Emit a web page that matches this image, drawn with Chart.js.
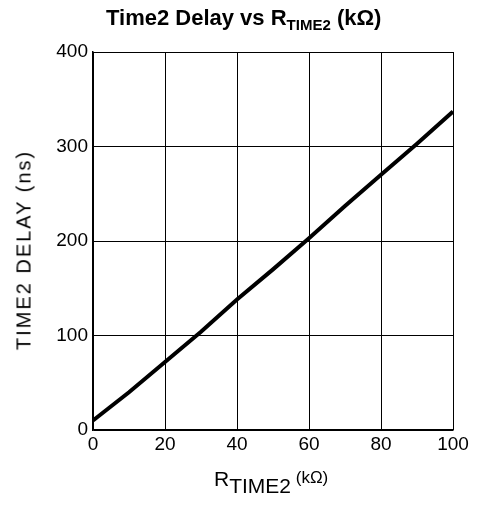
<!DOCTYPE html>
<html>
<head>
<meta charset="utf-8">
<script src="https://cdn.jsdelivr.net/npm/chart.js@4.4.1/dist/chart.umd.min.js"></script>
<style>
  html, body { margin: 0; padding: 0; background: #fff; }
  #wrap { position: relative; width: 482px; height: 509px; }
  #c { position: absolute; left: 0; top: 0; }
  .title { position: absolute; left: 106px; top: 5px; white-space: nowrap;
           font-family: "Liberation Sans", Arial, sans-serif; font-weight: bold; font-size: 22px; color: #000; }
  .title sub { font-size: 15px; vertical-align: -5px; line-height: 0; }
  .xlab { position: absolute; left: 214px; top: 467px; white-space: nowrap;
          font-family: "Liberation Sans", Arial, sans-serif; font-size: 21px; color: #000; }
  .xlab sub { font-size: 21px; vertical-align: -7px; line-height: 0; }
  .xlab sup { font-size: 17px; vertical-align: 3px; line-height: 0; }
  .ylab { position: absolute; left: 24px; top: 250px; white-space: nowrap;
          transform: translate(-50%, -50%) rotate(-90deg);
          font-family: "Liberation Sans", Arial, sans-serif; font-size: 20px; letter-spacing: 2px; color: #000; }
</style>
</head>
<body>
<div id="wrap">
  <canvas id="c" width="482" height="509"></canvas>
  <div class="title">Time2 Delay vs R<sub>TIME2</sub> (kΩ)</div>
  <div class="xlab">R<sub>TIME2</sub><sup> (kΩ)</sup></div>
  <div class="ylab" id="ylab"></div>
</div>
<script>
const rValues = [0, 10, 20, 30, 40, 50, 60, 70, 80, 90, 100];
const delayValues = [10, 40, 72, 104, 138, 170, 203, 237, 270, 303, 337];
const baseX = [0, 10];
const baseY = [0, 0];
const xTicks = [0, 20, 40, 60, 80, 100];
const yTicks = [0, 100, 200, 300, 400];
const yTitle = "TIME2 DELAY (ns)";

document.getElementById('ylab').textContent = yTitle;

const mainData = rValues.map((x, i) => ({ x: x, y: delayValues[i] }));
const baseData = baseX.map((x, i) => ({ x: x, y: baseY[i] }));

new Chart(document.getElementById('c'), {
  type: 'scatter',
  data: {
    datasets: [
      { data: mainData, showLine: true, borderColor: '#000', borderWidth: 4, pointRadius: 0, tension: 0, fill: false },
      { data: baseData, showLine: true, borderColor: '#000', borderWidth: 2, pointRadius: 0, fill: false }
    ]
  },
  options: {
    responsive: false,
    animation: false,
    events: [],
    layout: { padding: { left: 0, right: 29, top: 52, bottom: 0 } },
    plugins: { legend: { display: false }, title: { display: false }, tooltip: { enabled: false } },
    scales: {
      x: {
        type: 'linear', min: 0, max: 100,
        afterBuildTicks: s => { s.ticks = xTicks.map(v => ({ value: v })); },
        afterFit: s => { s.height = 79; },
        ticks: { color: '#000', font: { family: 'Liberation Sans, Arial, sans-serif', size: 19 }, padding: 3, maxRotation: 0 },
        grid: { color: '#000', lineWidth: 1, drawTicks: false },
        border: { color: '#000', width: 1.5 }
      },
      y: {
        type: 'linear', min: 0, max: 400,
        afterBuildTicks: s => { s.ticks = yTicks.map(v => ({ value: v })); },
        afterFit: s => { s.width = 93; },
        ticks: { color: '#000', font: { family: 'Liberation Sans, Arial, sans-serif', size: 19 }, padding: 5 },
        grid: { color: '#000', lineWidth: 1, drawTicks: false },
        border: { color: '#000', width: 1.5 }
      }
    }
  }
});
</script>
</body>
</html>
